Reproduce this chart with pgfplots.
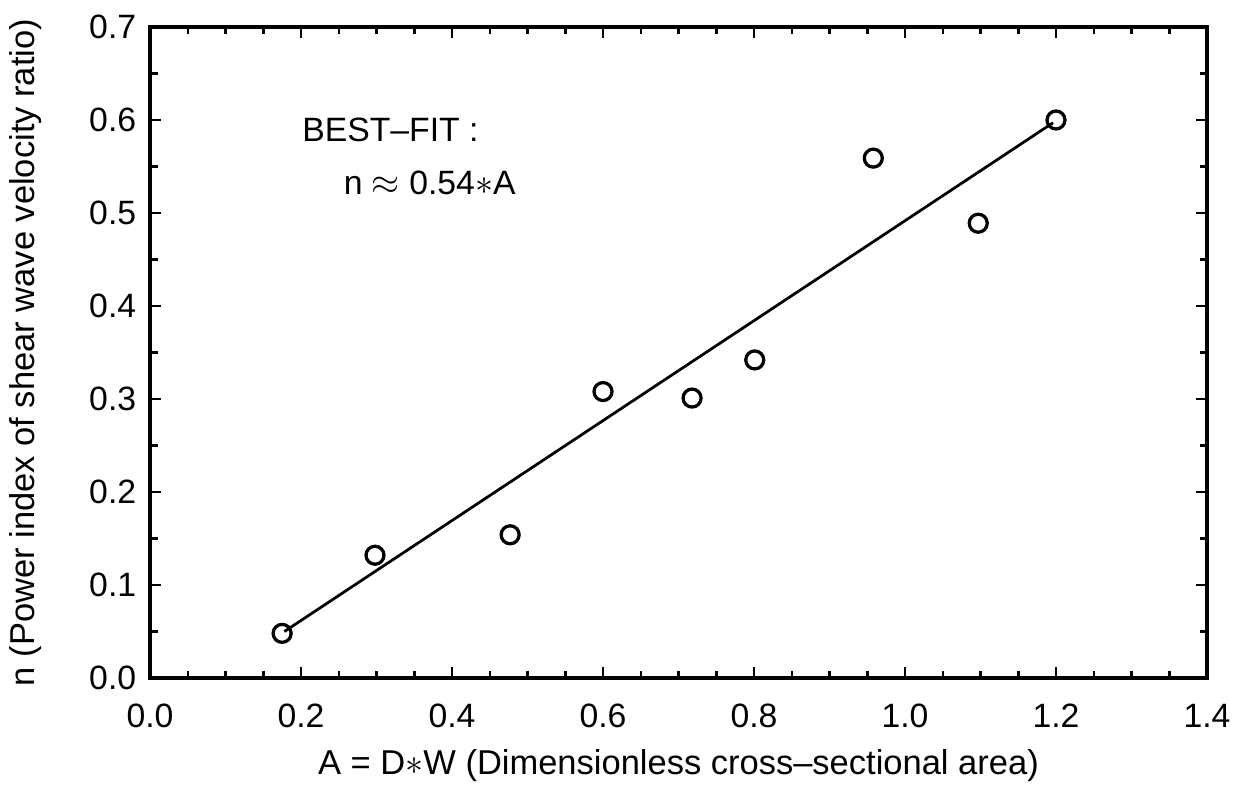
\documentclass[border=0pt]{standalone}
\usepackage{fontspec}
\setmainfont{Liberation Sans}
\usepackage{pgfplots}
\pgfplotsset{compat=1.18}

\begin{document}
\begin{tikzpicture}
\begin{axis}[
    name=ax,
    scale only axis,
    width=422.8pt, height=260.4pt,
    xmin=0, xmax=1.4,
    ymin=0, ymax=0.7,
    xtick={0,0.2,...,1.4},
    ytick={0,0.1,...,0.7},
    minor x tick num=3,
    minor y tick num=1,
    tick align=inside,
    ticks=both,
    major tick length=4.5pt,
    minor tick length=3pt,
    every tick/.style={black, line width=1pt},
    axis line style={line width=1.6pt},
    xticklabel style={/pgf/number format/fixed, /pgf/number format/fixed zerofill, /pgf/number format/precision=1, yshift=-7pt},
    yticklabel style={/pgf/number format/fixed, /pgf/number format/fixed zerofill, /pgf/number format/precision=1, xshift=-2pt},
    /pgf/number format/assume math mode=true,
    tick label style={font=\fontsize{13.5}{15}\selectfont},
    label style={font=\fontsize{13.8}{16}\selectfont},
    xlabel={A = D$\ast$W (Dimensionless cross--sectional area)},
    ylabel={n (Power index of shear wave velocity ratio)},
    xlabel style={at={(axis description cs:0.5,-0.134)}, anchor=center},
    ylabel style={at={(axis description cs:-0.118,0.5)}, anchor=center},
    clip=false,
]

% measured points
\addplot[only marks, mark=o, mark size=3.6pt, mark options={line width=1.3pt}]
    coordinates {
    (0.175,0.048)(0.298,0.132)(0.477,0.154)(0.600,0.308)(0.718,0.301)
    (0.801,0.342)(0.958,0.559)(1.097,0.489)(1.200,0.600)
    };

% best fit line
\addplot[line width=1.1pt] coordinates {(0.178,0.050)(1.196,0.597)};

\node[anchor=west, font=\fontsize{13.5}{15}\selectfont] at (axis cs:0.19,0.589) {BEST--FIT :};
\node[anchor=west, font=\fontsize{13.5}{15}\selectfont] at (axis cs:0.245,0.532) {n $\approx$ 0.54$\ast$A};

\end{axis}
\pgfresetboundingbox
\path[use as bounding box] ([xshift=-60pt, yshift=-49.2pt]ax.south west) rectangle ([xshift=10.8pt, yshift=10.8pt]ax.north east);
\end{tikzpicture}
\end{document}
